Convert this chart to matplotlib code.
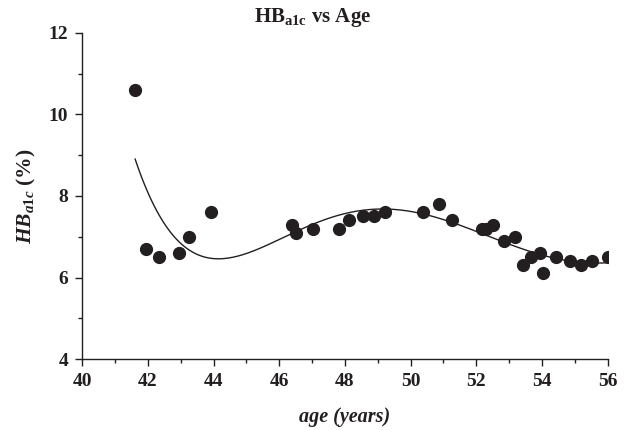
import numpy as np
import matplotlib
matplotlib.use("Agg")
import matplotlib.pyplot as plt
from matplotlib.ticker import MultipleLocator

# age (years) and HbA1c (%)
age = [41.61, 41.93, 42.34, 42.94, 43.26, 43.93,
       46.39, 46.50, 47.03, 47.81, 48.13, 48.56, 48.88, 49.23,
       50.37, 50.85, 51.25, 52.18, 52.28, 52.52, 52.85, 53.18,
       53.42, 53.68, 53.94, 54.02, 54.42, 54.85, 55.18, 55.51, 56.02]
hba1c = [10.6, 6.7, 6.5, 6.6, 7.0, 7.6,
         7.3, 7.1, 7.2, 7.2, 7.4, 7.5, 7.5, 7.6,
         7.6, 7.8, 7.4, 7.2, 7.2, 7.3, 6.9, 7.0,
         6.3, 6.5, 6.6, 6.1, 6.5, 6.4, 6.3, 6.4, 6.5]

fit_order = 5

plt.rcParams['font.family'] = ['Liberation Serif', 'DejaVu Serif']
plt.rcParams['font.weight'] = 'bold'
plt.rcParams['mathtext.fontset'] = 'custom'
plt.rcParams['mathtext.rm'] = 'Liberation Serif:bold'
plt.rcParams['mathtext.it'] = 'Liberation Serif:italic:bold'
plt.rcParams['mathtext.bf'] = 'Liberation Serif:bold'

ink = '#231f20'

fig = plt.figure(figsize=(6.29, 4.30), dpi=100)
ax = fig.add_axes([0.1308, 0.1651, 0.8353, 0.7582])

# polynomial trendline
coef = np.polyfit(age, hba1c, fit_order)
xs = np.linspace(min(age), max(age), 300)
ax.plot(xs, np.polyval(coef, xs), color=ink, lw=1.0, zorder=2)

ax.plot(age, hba1c, 'o', color=ink, markersize=8.5, zorder=3)

ax.set_xlim(40, 56)
ax.set_ylim(4, 12)
ax.xaxis.set_major_locator(MultipleLocator(2))
ax.xaxis.set_minor_locator(MultipleLocator(1))
ax.yaxis.set_major_locator(MultipleLocator(2))
ax.yaxis.set_minor_locator(MultipleLocator(1))

for s in ['top', 'right']:
    ax.spines[s].set_visible(False)
for s in ['left', 'bottom']:
    ax.spines[s].set_color(ink)
    ax.spines[s].set_linewidth(1.0)

ax.tick_params(which='major', direction='out', length=5, width=1, color=ink,
               labelsize=14, labelcolor=ink, pad=5)
ax.tick_params(which='minor', direction='out', length=3, width=1, color=ink)

fig.text(0.497, 0.948, r'HB$_{\mathrm{a1c}}$ vs Age', fontsize=15,
         fontweight='bold', color=ink, ha='center', va='baseline')
ax.set_xlabel('age (years)', fontsize=14.5, fontstyle='italic',
              fontweight='bold', color=ink, labelpad=12)
ax.set_ylabel(r'$HB_{a1c}$ (%)', fontsize=15.5, fontweight='bold', color=ink,
              labelpad=8)

fig.savefig('out.png', dpi=100)
